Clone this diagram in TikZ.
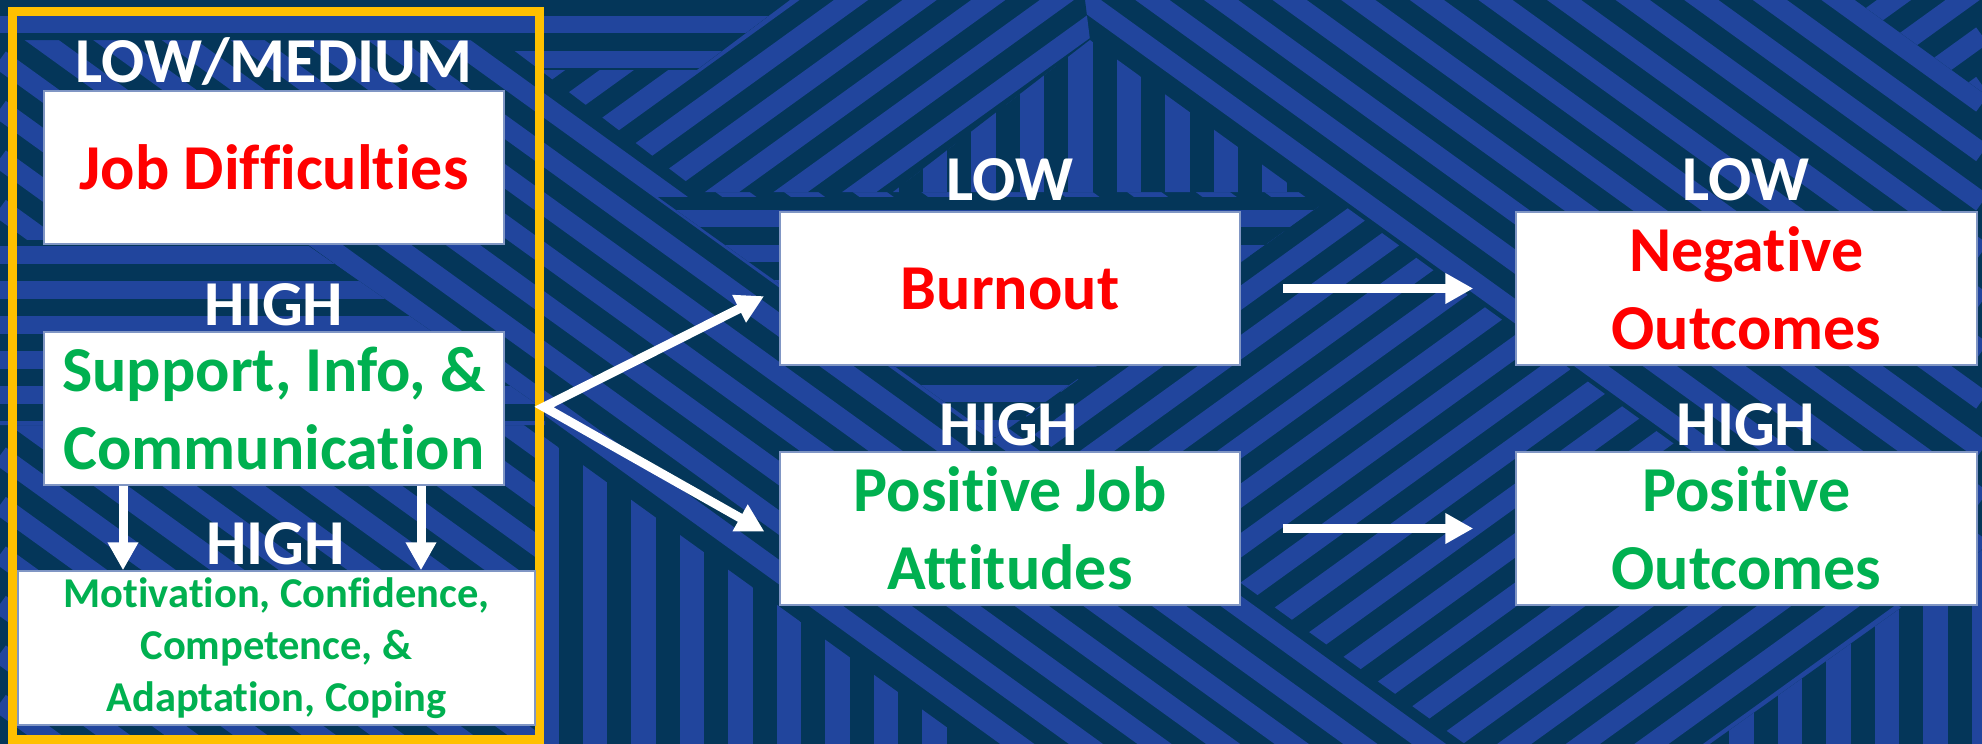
\documentclass[tikz,border=0pt]{standalone}
\usepackage{fontspec}
\setmainfont{Carlito}[Ligatures=NoCommon]
\usetikzlibrary{arrows.meta}

\definecolor{navy}{RGB}{4,54,89}
\definecolor{stripeblue}{RGB}{33,69,157}
\definecolor{frameyellow}{RGB}{255,192,0}
\definecolor{txtred}{RGB}{255,0,0}
\definecolor{txtgreen}{RGB}{0,176,80}
\definecolor{boxedge}{RGB}{128,150,196}

% Stripe patches: #1 = closed polygon, #2 = phase of the stripes
\newcommand\HorizPatch[2]{%
  \fill[navy] #1;
  \begin{scope}\clip #1;
    \foreach \k in {-1,...,22}
      \draw[hband] (0,{\k*35+#2}) -- (1982,{\k*35+#2});
  \end{scope}}
\newcommand\VertPatch[2]{%
  \fill[navy] #1;
  \begin{scope}\clip #1;
    \foreach \k in {-1,...,42}
      \draw[vband] ({\k*48.5+#2},0) -- ({\k*48.5+#2},744);
  \end{scope}}
\newcommand\SlashPatch[2]{%
  \fill[navy] #1;
  \begin{scope}\clip #1;
    \foreach \k in {-1,...,46}
      \draw[dband] (0,{\k*49.5+#2}) -- (1982,{\k*49.5+#2-1430});
  \end{scope}}

\begin{document}
\begin{tikzpicture}[x=0.5pt,y=-0.5pt,
  hband/.style={draw=stripeblue,line width=8.75pt},
  vband/.style={draw=stripeblue,line width=12.125pt},
  dband/.style={draw=stripeblue,line width=10pt},
  card/.style={draw=boxedge,line width=0.75pt,fill=white,inner sep=0pt,
    align=center,minimum width=230pt,minimum height=76.5pt,
    font=\bfseries\fontsize{32pt}{39pt}\selectfont},
  level/.style={text=white,anchor=base,inner sep=0pt,
    font=\bfseries\fontsize{32pt}{39pt}\selectfont},
  tip/.tip={Triangle[length=14pt,width=14.5pt]},
  flow/.style={draw=white,line width=4.5pt,-tip},
]
\useasboundingbox (0,0) rectangle (1982,744);

% ---- striped backdrop ----
\fill[navy] (0,0) rectangle (1982,744);
\begin{scope}
  \clip (0,0) rectangle (1982,744);
  \foreach \k in {-30,...,16}
    \draw[dband] (0,{\k*49.5+10}) -- (1982,{\k*49.5+10+1430});
\end{scope}

\HorizPatch{(0,0) -- (790,0) -- (697,70) -- (540,70) -- (500,40) -- (0,40) -- cycle}{24.5}
\SlashPatch{(790,0) -- (1085,0) -- (1090,40) -- (893,192) -- (700,192) -- (540,70) -- (697,70) -- cycle}{20}
\VertPatch{(1090,40) -- (1300,192) -- (893,192) -- cycle}{13.5}
\HorizPatch{(658,197) -- (1332,197) -- (995,438) -- cycle}{8.5}
\HorizPatch{(0,240) -- (300,240) -- (545,410) -- (545,425) -- (0,425) -- cycle}{10}
\SlashPatch{(1332,197) -- (1982,666) -- (1982,744) -- (1465,744) -- (1018,423) -- cycle}{5}
\VertPatch{(1710,744) -- (1982,744) -- (1982,550) -- cycle}{44}
\VertPatch{(544,437) -- (970,744) -- (544,744) -- cycle}{13}
\SlashPatch{(1855,0) -- (1982,0) -- (1982,92) -- cycle}{30}

% ---- left panel ----
\node[draw=frameyellow,line width=4.5pt,inner sep=0pt,
  minimum width=263.5pt,minimum height=364pt] (panel) at (276,375.5) {};

\node[level] (lvljob) at (274,82) {LOW/MEDIUM};
\node[card,text=txtred] (job) at (274,167.5) {Job Difficulties};
\node[level] (lvlsup) at (274,325) {HIGH};
\node[card,text=txtgreen] (sup) at (274,408.5) {Support, Info, \&\\Communication};
\node[level] (lvlmot) at (275.5,564) {HIGH};
\node[card,text=txtgreen,minimum width=258.5pt,minimum height=77pt,
  font=\bfseries\fontsize{21.25pt}{26pt}\selectfont] (mot) at (276.5,648)
  {Motivation, Confidence,\\Competence, \&\\Adaptation, Coping};

% ---- middle column ----
\node[level] (lvlburn) at (1010,200) {LOW};
\node[card,text=txtred] (burn) at (1010,288.5) {Burnout};
\node[level] (lvlatt) at (1009,445) {HIGH};
\node[card,text=txtgreen] (att) at (1010,528.5) {Positive Job\\Attitudes};

% ---- right column ----
\node[level] (lvlneg) at (1746,200) {LOW};
\node[card,text=txtred,minimum width=230.5pt] (neg) at (1746.5,288.5) {Negative\\Outcomes};
\node[level] (lvlpos) at (1746,445) {HIGH};
\node[card,text=txtgreen,minimum width=230.5pt] (pos) at (1746.5,528.5) {Positive\\Outcomes};

% ---- connectors ----
\coordinate (fork) at (544,407);
\coordinate (dropl) at (123,0);
\coordinate (dropr) at (421,0);

\draw[flow] (sup.south -| dropl) -- (mot.north -| dropl);
\draw[flow] (sup.south -| dropr) -- (mot.north -| dropr);

\draw[draw=white,line width=4.5pt,line join=miter,tip-tip,
  shorten <=8.5pt,shorten >=8.5pt]
  (burn.west) -- (fork) -- ([yshift=-5.75pt]att.west);

\draw[flow,shorten <=21pt,shorten >=21pt] (burn.east) -- (neg.west);
\draw[flow,shorten <=21pt,shorten >=21pt] (att.east) -- (pos.west);
\end{tikzpicture}
\end{document}
